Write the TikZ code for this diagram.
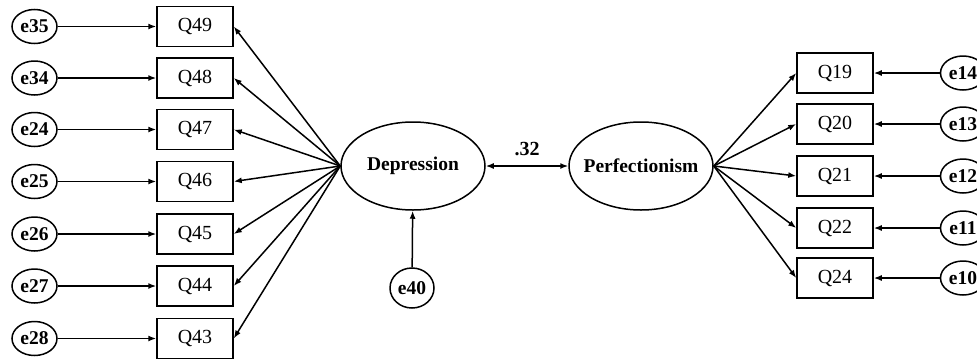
\documentclass[tikz,border=0pt]{standalone}
\usepackage{fontspec}
\setmainfont{Liberation Serif}
\usetikzlibrary{arrows.meta,shapes.geometric}
\begin{document}
\begin{tikzpicture}[x=1pt,y=-1pt,
  lbl/.style={font=\fontsize{20}{22}\selectfont\bfseries},
  errnode/.style={draw, ellipse, line width=1.5pt, minimum width=45pt, minimum height=34pt, inner sep=0pt, font=\fontsize{19.5}{22}\selectfont\bfseries},
  item/.style={draw, rectangle, line width=1.5pt, minimum width=76pt, minimum height=40pt, inner sep=0pt, font=\fontsize{20}{22}\selectfont},
  latent/.style={draw, ellipse, line width=1.5pt, minimum width=144pt, minimum height=88pt, inner xsep=-9pt, inner ysep=0pt, font=\fontsize{19.5}{22}\selectfont\bfseries},
  arr/.style={line width=1.5pt, -{Latex[length=8pt,width=6pt]}},
  darr/.style={line width=1.5pt, {Latex[length=8pt,width=6pt]}-{Latex[length=8pt,width=6pt]}}
]
\useasboundingbox (0,0) rectangle (977,362);

% latent variables
\node[latent] (dep) at (413,166) {Depression};
\node[latent] (perf) at (641,166) {Perfectionism};
\node[errnode, minimum width=44pt, minimum height=40pt] (e40) at (412,288) {e40};

% left side
\foreach \q/\e/\y in {49/35/26.5, 48/34/78, 47/24/129.5, 46/25/181.5, 45/26/234, 44/27/286, 43/28/338.5}{
  \node[item] (Q\q) at (195,\y) {Q\q};
  \node[errnode] (e\e) at (34.5,\y) {e\e};
  \draw[arr] (e\e) -- (Q\q);
  \draw[arr] (dep.west) -- (Q\q.east);
}

% right side
\foreach \q/\e/\y in {19/14/73, 20/13/124, 21/12/176, 22/11/228, 24/10/278}{
  \node[item] (Q\q) at (835,\y) {Q\q};
  \node[errnode] (e\e) at (963,\y) {e\e};
  \draw[arr] (e\e) -- (Q\q);
  \draw[arr] (perf.east) -- (Q\q.west);
}

\draw[arr] (e40) -- (dep);
\draw[darr] (dep) -- node[midway, above=6pt, lbl] (r) {.32} (perf);
\end{tikzpicture}
\end{document}
